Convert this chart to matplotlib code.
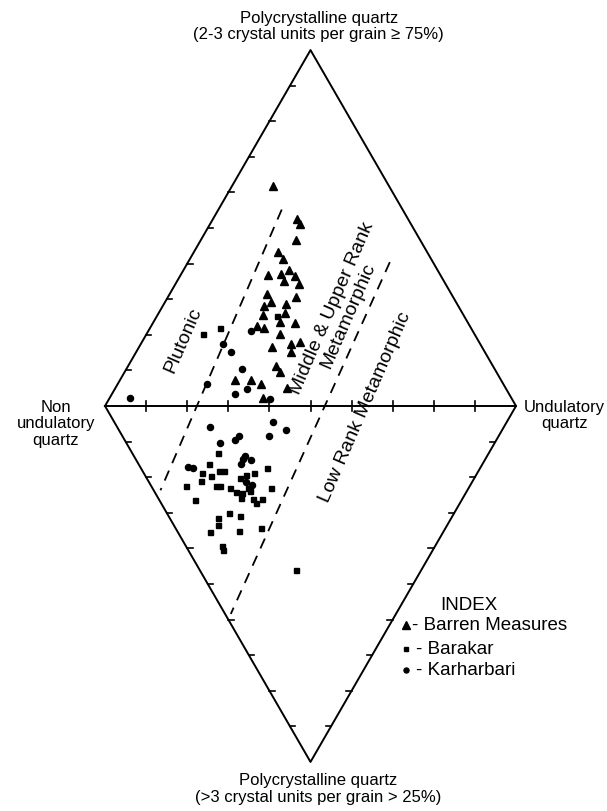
import matplotlib.pyplot as plt

plt.rcParams['font.family'] = ['Liberation Sans', 'DejaVu Sans']

# diamond coordinates: left vertex (0, 0), right vertex (100, 0), side = 100
barren_x = [40.8, 46.8, 47.4, 46.5, 42.0, 43.3, 39.6, 42.7, 44.8, 46.2, 43.5, 47.1,
            39.3, 46.5, 40.5, 38.6, 44.0, 38.4, 43.8, 42.6, 46.2, 36.9, 38.8, 42.6,
            40.7, 45.3, 47.4, 45.3, 41.6, 42.6, 31.6, 35.5, 37.9, 44.2, 38.5]
barren_y = [53.5, 45.5, 44.3, 40.5, 37.5, 35.8, 31.9, 32.0, 33.2, 31.7, 30.4, 29.6,
            27.2, 26.5, 25.2, 24.4, 24.8, 22.1, 22.6, 20.5, 20.2, 19.5, 18.9, 17.4,
            14.4, 15.1, 15.5, 13.1, 9.8, 8.2, 6.4, 6.4, 5.4, 4.5, 1.9]

barakar_x = [23.9, 28.0, 41.8,
             27.6, 25.3, 39.5, 23.7, 25.7, 27.8, 29.0, 23.3, 19.7, 27.0, 28.1, 32.8,
             34.2, 36.3, 30.4, 31.9, 33.3, 34.7, 35.3, 33.1, 40.3, 21.9, 35.9, 36.7,
             38.1, 30.1, 27.4, 32.8, 27.4, 25.5, 32.7, 37.9, 28.4, 28.6, 46.5]
barakar_y = [17.5, 18.9, 21.8,
             -11.5, -14.1, -15.0, -16.3, -17.0, -15.9, -15.9, -18.2, -19.4, -19.4, -19.5, -17.6,
             -16.8, -16.4, -20.0, -21.0, -21.2, -20.0, -20.6, -22.5, -20.0, -22.8, -22.6, -23.6,
             -22.6, -26.0, -27.3, -26.8, -29.0, -30.7, -30.5, -29.8, -34.0, -35.0, -40.0]

karhar_x = [35.5, 28.6, 30.7, 33.3, 24.9, 31.6, 34.6, 6.1, 40.1,
            40.9, 44.0, 25.5, 40.0, 28.1, 31.6, 32.7, 34.1, 33.6, 35.5, 33.2, 20.3,
            21.5, 34.2, 35.7]
karhar_y = [18.2, 15.1, 13.1, 8.9, 5.4, 2.8, 4.1, 1.9, 1.7,
            -3.8, -5.8, -5.0, -7.4, -8.9, -8.3, -7.2, -12.2, -12.9, -13.1, -14.1, -14.9,
            -15.1, -18.4, -19.2]

# dashed field boundaries (ends)
plutonic_line = ([43.0, 13.5], [47.8, -20.5])
metamorphic_line = ([69.3, 30.6], [35.0, -50.6])

fig = plt.figure(figsize=(6.07, 8.12), dpi=100)
ax = fig.add_axes([0, 0, 1, 1])
ax.set_xlim(-25.55, 122.14)
ax.set_ylim(-98.54, 99.03)
ax.axis('off')

h = 86.6
# outline of the diamond and the middle line
ax.plot([0, 50, 100, 50, 0], [0, h, 0, -h, 0], color='black', lw=1.4)
ax.plot([0, 100], [0, 0], color='black', lw=1.4)

# ticks
for k in range(1, 10):
    f = k / 10
    ax.plot([100 * f, 100 * f], [-1.1, 1.1], color='black', lw=1.2)
    # upper left side
    ax.plot([50 * f, 50 * f + 1.3], [h * f, h * f], color='black', lw=1.2)
    # lower left side
    ax.plot([50 * f, 50 * f + 1.3], [-h * f, -h * f], color='black', lw=1.2)
    # lower right side
    ax.plot([100 - 50 * f, 100 - 50 * f - 1.3], [-h * f, -h * f], color='black', lw=1.2)

ax.plot(*plutonic_line, color='black', lw=1.3, ls=(0, (6, 4.5)))
ax.plot(*metamorphic_line, color='black', lw=1.3, ls=(0, (6, 4.5)))

ax.plot(barren_x, barren_y, '^', color='black', ms=6.2, ls='none')
ax.plot(barakar_x, barakar_y, 's', color='black', ms=3.6, ls='none')
ax.plot(karhar_x, karhar_y, 'o', color='black', ms=4.4, ls='none')

ax.text(19.0, 16.2, 'Plutonic', rotation=66.5, ha='center', va='center', fontsize=14)
ax.text(57.2, 23.1, 'Middle & Upper Rank\nMetamorphic', rotation=66.5, ha='center',
        va='center', fontsize=14, linespacing=1.05)
ax.text(63.3, 0.0, 'Low Rank Metamorphic', rotation=66.5, ha='center', va='center',
        fontsize=14)

ax.text(52.0, 92.6, 'Polycrystalline quartz\n(2-3 crystal units per grain \u2265 75%)',
        ha='center', va='center', fontsize=12, linespacing=1.15)
ax.text(51.8, -92.9, 'Polycrystalline quartz\n(>3 crystal units per grain > 25%)',
        ha='center', va='center', fontsize=12, linespacing=1.15)
ax.text(-12.0, 1.8, 'Non\nundulatory\nquartz', ha='center', va='top', fontsize=12,
        linespacing=1.15)
ax.text(111.8, 1.8, 'Undulatory\nquartz', ha='center', va='top', fontsize=12,
        linespacing=1.15)

# index
ax.text(88.6, -48.2, 'INDEX', ha='center', va='center', fontsize=13.5)
ax.plot([73.3], [-53.4], '^', color='black', ms=5.3)
ax.text(74.6, -53.2, '- Barren Measures', ha='left', va='center', fontsize=13.5)
ax.plot([73.2], [-59.1], 's', color='black', ms=2.6)
ax.text(75.6, -59.1, '- Barakar', ha='left', va='center', fontsize=13.5)
ax.plot([73.2], [-64.3], 'o', color='black', ms=3.6)
ax.text(75.6, -64.2, '- Karharbari', ha='left', va='center', fontsize=13.5)

fig.savefig('out.png', dpi=100)
